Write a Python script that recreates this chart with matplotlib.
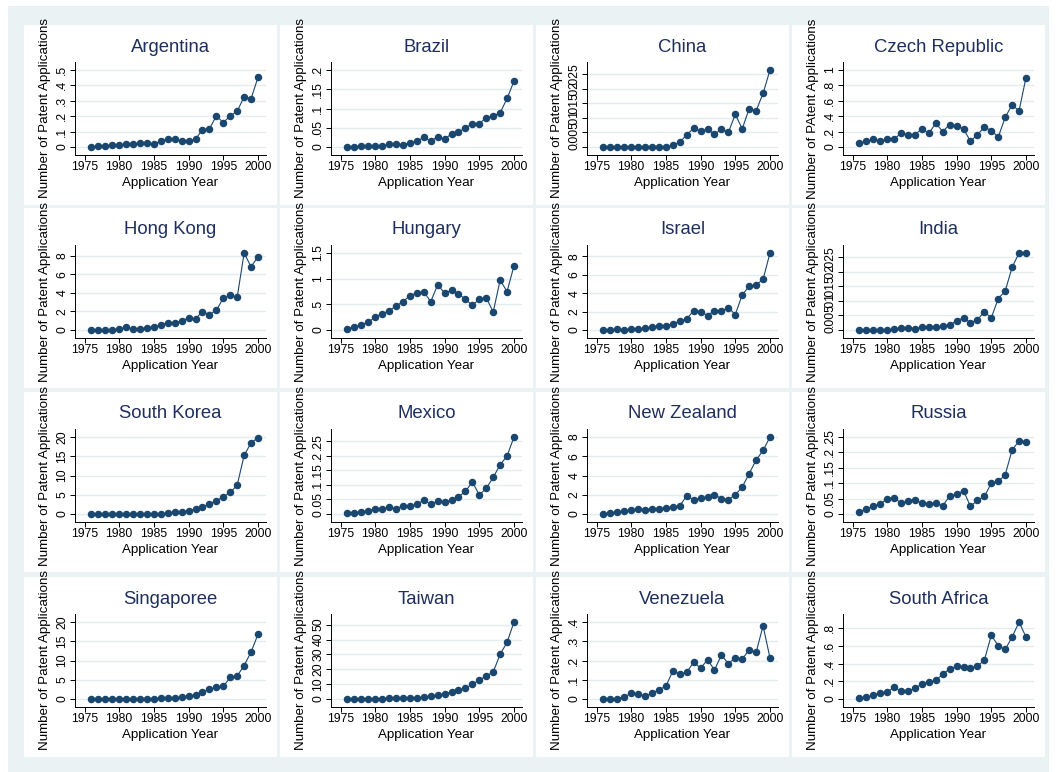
import matplotlib
matplotlib.use("Agg")
import matplotlib.pyplot as plt
from matplotlib.patches import Rectangle

# data: patent applications by application year, 1976-2000
years = list(range(1976, 2001))

argentina = [0.000, 0.006, 0.006, 0.010, 0.010, 0.017, 0.017, 0.024, 0.024, 0.017,
             0.039, 0.049, 0.049, 0.041, 0.039, 0.052, 0.112, 0.118, 0.202, 0.159,
             0.202, 0.232, 0.326, 0.313, 0.453]
brazil = [0.000, 0.000, 0.002, 0.002, 0.003, 0.003, 0.007, 0.008, 0.006, 0.011,
          0.015, 0.025, 0.015, 0.027, 0.021, 0.034, 0.038, 0.050, 0.060, 0.061,
          0.076, 0.080, 0.089, 0.126, 0.171]
china = [0.0, 0.0, 0.0, 0.0, 0.0, 0.0001, 0.0, 0.0, 0.0, 0.0,
         0.0007, 0.0016, 0.0042, 0.0064, 0.0054, 0.0061, 0.0043, 0.0062, 0.0050, 0.0112,
         0.0062, 0.0132, 0.0124, 0.0184, 0.0264]
czech = [0.047, 0.073, 0.098, 0.081, 0.103, 0.098, 0.184, 0.154, 0.162, 0.235,
         0.179, 0.308, 0.201, 0.291, 0.274, 0.235, 0.073, 0.162, 0.256, 0.214,
         0.128, 0.385, 0.547, 0.470, 0.902]
hong_kong = [0.0, 0.0, 0.03, 0.03, 0.10, 0.28, 0.10, 0.14, 0.25, 0.36,
             0.50, 0.78, 0.78, 0.96, 1.32, 1.21, 1.99, 1.67, 2.13, 3.45,
             3.73, 3.52, 8.32, 6.83, 7.93]
hungary = [0.02, 0.06, 0.10, 0.15, 0.25, 0.32, 0.37, 0.47, 0.55, 0.67,
           0.72, 0.75, 0.55, 0.88, 0.72, 0.77, 0.70, 0.60, 0.48, 0.60,
           0.63, 0.35, 0.97, 0.75, 1.25]
israel = [0.0, 0.0, 0.07, 0.04, 0.07, 0.07, 0.21, 0.29, 0.39, 0.46,
          0.68, 0.96, 1.21, 2.10, 2.00, 1.57, 2.10, 2.07, 2.43, 1.68,
          3.82, 4.75, 4.89, 5.50, 8.36]
india = [0.0, 0.0, 0.0001, 0.0001, 0.0, 0.0003, 0.0006, 0.0008, 0.0005, 0.0009,
         0.0009, 0.0009, 0.0013, 0.0016, 0.0032, 0.0042, 0.0025, 0.0035, 0.0063, 0.0042,
         0.0108, 0.0134, 0.0216, 0.0265, 0.0264]
south_korea = [0.0, 0.0, 0.0, 0.0, 0.0, 0.0, 0.05, 0.05, 0.05, 0.1,
               0.1, 0.2, 0.4, 0.6, 0.9, 1.3, 1.8, 2.6, 3.4, 4.5,
               5.6, 7.5, 15.2, 18.5, 19.8]
mexico = [0.003, 0.005, 0.007, 0.011, 0.017, 0.017, 0.024, 0.018, 0.028, 0.026,
          0.033, 0.048, 0.034, 0.044, 0.041, 0.047, 0.059, 0.078, 0.110, 0.066,
          0.088, 0.126, 0.169, 0.200, 0.265]
new_zealand = [0.05, 0.10, 0.20, 0.30, 0.45, 0.50, 0.45, 0.55, 0.55, 0.65,
               0.70, 0.85, 1.90, 1.45, 1.70, 1.75, 2.00, 1.60, 1.50, 2.00,
               2.80, 4.20, 5.60, 6.60, 8.00]
russia = [0.0075, 0.015, 0.026, 0.032, 0.050, 0.053, 0.035, 0.043, 0.046, 0.035,
          0.034, 0.036, 0.027, 0.058, 0.065, 0.075, 0.025, 0.044, 0.057, 0.100,
          0.106, 0.127, 0.208, 0.237, 0.235]
singapore = [0.0, 0.0, 0.0, 0.0, 0.0, 0.05, 0.05, 0.1, 0.1, 0.1,
             0.15, 0.2, 0.3, 0.5, 0.8, 1.0, 1.8, 2.5, 3.0, 3.3,
             5.6, 6.0, 8.7, 12.2, 16.8]
taiwan = [0.1, 0.1, 0.2, 0.2, 0.3, 0.3, 0.4, 0.4, 0.6, 0.7,
          0.8, 1.2, 2.0, 2.4, 3.5, 4.6, 6.2, 7.1, 10.0, 12.6,
          15.5, 18.1, 30.1, 38.1, 51.8]
venezuela = [0.0, 0.0, 0.002, 0.012, 0.029, 0.027, 0.014, 0.029, 0.049, 0.066,
             0.146, 0.129, 0.138, 0.192, 0.160, 0.204, 0.151, 0.228, 0.184, 0.214,
             0.208, 0.255, 0.242, 0.380, 0.213]
south_africa = [0.01, 0.02, 0.04, 0.07, 0.08, 0.13, 0.09, 0.09, 0.12, 0.17,
                0.19, 0.21, 0.28, 0.34, 0.37, 0.36, 0.35, 0.37, 0.44, 0.72,
                0.60, 0.56, 0.70, 0.87, 0.70]

titles = ["Argentina", "Brazil", "China", "Czech Republic",
          "Hong Kong", "Hungary", "Israel", "India",
          "South Korea", "Mexico", "New Zealand", "Russia",
          "Singaporee", "Taiwan", "Venezuela", "South Africa"]
series = [argentina, brazil, china, czech,
          hong_kong, hungary, israel, india,
          south_korea, mexico, new_zealand, russia,
          singapore, taiwan, venezuela, south_africa]
yticks = [[0, .1, .2, .3, .4, .5], [0, .05, .1, .15, .2], [0, .005, .01, .015, .02, .025], [0, .2, .4, .6, .8, 1],
          [0, 2, 4, 6, 8], [0, .5, 1, 1.5], [0, 2, 4, 6, 8], [0, .005, .01, .015, .02, .025],
          [0, 5, 10, 15, 20], [0, .05, .1, .15, .2, .25], [0, 2, 4, 6, 8], [0, .05, .1, .15, .2, .25],
          [0, 5, 10, 15, 20], [0, 10, 20, 30, 40, 50], [0, .1, .2, .3, .4], [0, .2, .4, .6, .8]]
ylabels = ["Number of Patent Applications"] * 16
ylabels[3] = "Number of PAtent Applications"
xticks = [1975, 1980, 1985, 1990, 1995, 2000]

NAVY = "#1a476f"
BG = "#eaf2f3"
W, H = 1056, 772

plt.rcParams["font.family"] = ["Liberation Sans", "DejaVu Sans"]


def stata_fmt(v):
    s = ("%g" % v)
    if s.startswith("0."):
        s = s[1:]
    return s


fig = plt.figure(figsize=(W / 100, H / 100), dpi=100)
fig.patch.set_facecolor("white")


def px_rect(x0, y0, w, h, color, z):
    fig.patches.append(Rectangle((x0 / W, 1 - (y0 + h) / H), w / W, h / H,
                                 transform=fig.transFigure, facecolor=color,
                                 edgecolor="none", zorder=z))


px_rect(8, 6, 1041, 766, BG, -2)

col_left = [24, 280, 536, 792]
row_top = [25, 208, 392, 577]
panel_w, panel_h = 253, 180
ax_l, ax_t, ax_w, ax_h = 51, 37, 191, 93

for i, (name, vals, ticks) in enumerate(zip(titles, series, yticks)):
    r, c = divmod(i, 4)
    x0, y0 = col_left[c], row_top[r]
    px_rect(x0, y0, panel_w, panel_h, "white", -1)

    ax = fig.add_axes([(x0 + ax_l) / W, 1 - (y0 + ax_t + ax_h) / H, ax_w / W, ax_h / H])
    ax.set_facecolor("white")
    ax.plot(years, vals, color=NAVY, lw=0.8, marker="o", ms=4.4, mec=NAVY, mfc=NAVY, zorder=3)

    lo = min(0, min(vals))
    hi = max(ticks[-1], max(vals))
    pad = (hi - lo) * 8 / (ax_h - 16)
    ax.set_ylim(lo - pad, hi + pad)
    xpad_l, xpad_r = 9.5, 8
    per = (ax_w - xpad_l - xpad_r) / 25
    ax.set_xlim(1975 - xpad_l / per, 2000 + xpad_r / per)

    ax.set_yticks(ticks)
    ax.set_yticklabels([stata_fmt(t) for t in ticks], rotation=90, va="center")
    ax.set_xticks(xticks)
    ax.tick_params(axis="both", labelsize=8.8, length=3.6, width=0.7, color="black")
    ax.tick_params(axis="x", pad=1.0)
    ax.tick_params(axis="y", pad=1.2)
    ax.yaxis.grid(True, color="#e3ecee", lw=1.0)
    ax.set_axisbelow(True)
    for s in ["top", "right"]:
        ax.spines[s].set_visible(False)
    for s in ["left", "bottom"]:
        ax.spines[s].set_linewidth(0.7)

    fig.text((x0 + ax_l + ax_w / 2) / W, 1 - (y0 + 22) / H, name,
             ha="center", va="center", fontsize=13.3, color="#1e2f5e")
    fig.text((x0 + ax_l + ax_w / 2) / W, 1 - (y0 + 158) / H, "Application Year",
             ha="center", va="center", fontsize=9.6)
    fig.text((x0 + 21) / W, 1 - (y0 + ax_t + ax_h / 2) / H, ylabels[i],
             ha="center", va="center", rotation=90, fontsize=9.6)

fig.savefig("out.png", dpi=100)
